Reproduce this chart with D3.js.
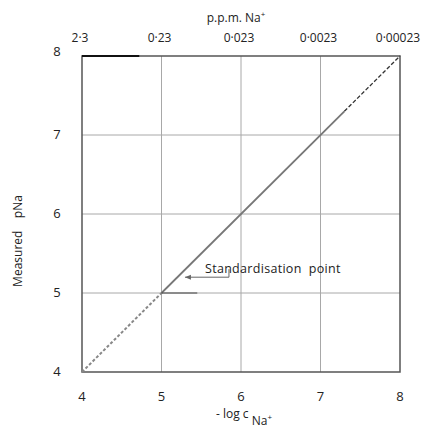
<!DOCTYPE html>
<html>
<meta charset="utf-8">
<style>
body { margin: 0; background: #fff; }
text { font-family: "Open Sans", sans-serif; fill: #222; white-space: pre; }
</style>
<script src="https://d3js.org/d3.v7.min.js"></script>
<body>
<svg id="chart" width="421" height="432"></svg>
<script>
// data
var xTicks = [4, 5, 6, 7, 8];
var yTicks = [4, 5, 6, 7, 8];
var ppmLabels = ["2·3", "0·23", "0·023", "0·0023", "0·00023"];
var dottedPart = [[4, 4], [5, 5]];
var solidPart = [[5, 5], [7.3, 7.3]];
var dashedPart = [[7.3, 7.3], [8, 8]];
var stdPoint = [5.27, 5.2];

var svg = d3.select("#chart");
var x = d3.scaleLinear().domain([4, 8]).range([82, 400]);
var y = d3.scaleLinear().domain([4, 8]).range([372, 56]);

// grid
svg.append("g").selectAll("line").data(xTicks.slice(1, -1)).enter().append("line")
    .attr("x1", d => x(d)).attr("x2", d => x(d))
    .attr("y1", y(8)).attr("y2", y(4))
    .attr("stroke", "#a8a8a8").attr("stroke-width", 1);
svg.append("g").selectAll("line").data(yTicks.slice(1, -1)).enter().append("line")
    .attr("y1", d => y(d)).attr("y2", d => y(d))
    .attr("x1", x(4)).attr("x2", x(8))
    .attr("stroke", "#a8a8a8").attr("stroke-width", 1);

// frame
svg.append("rect")
    .attr("x", x(4)).attr("y", y(8))
    .attr("width", x(8) - x(4)).attr("height", y(4) - y(8))
    .attr("fill", "none").attr("stroke", "#555").attr("stroke-width", 1.5);
svg.append("line")
    .attr("x1", x(4)).attr("x2", x(4.72)).attr("y1", y(8)).attr("y2", y(8))
    .attr("stroke", "#111").attr("stroke-width", 2);

// axes labels
svg.append("g").selectAll("text").data(xTicks).enter().append("text")
    .attr("x", d => x(d)).attr("y", 401)
    .attr("text-anchor", "middle").attr("font-size", 13)
    .text(d => d);
svg.append("g").selectAll("text").data(yTicks).enter().append("text")
    .attr("x", 57).attr("y", d => y(d) + 4 - (d === 8 ? 4 : 0))
    .attr("text-anchor", "middle").attr("font-size", 13)
    .text(d => d);
svg.append("g").selectAll("text").data(ppmLabels).enter().append("text")
    .attr("x", (d, i) => x(xTicks[i]) - 2).attr("y", 42)
    .attr("text-anchor", "middle").attr("font-size", 12)
    .text(d => d);

svg.append("text").attr("x", 236).attr("y", 22)
    .attr("text-anchor", "middle").attr("font-size", 12)
    .html("p.p.m. Na<tspan baseline-shift='super' font-size='8'>+</tspan>");

var xl = svg.append("text").attr("x", 244).attr("y", 418)
    .attr("text-anchor", "middle").attr("font-size", 12);
xl.append("tspan").text("- log c ");
xl.append("tspan").attr("dy", 7).text("Na");
xl.append("tspan").attr("dy", -5).attr("font-size", 8).text("+");

svg.append("text")
    .attr("transform", "translate(22,241) rotate(-90)")
    .attr("text-anchor", "middle").attr("font-size", 12)
    .text("Measured    pNa");

// calibration line
var line = d3.line().x(d => x(d[0])).y(d => y(d[1]));
svg.append("path").attr("d", line(dottedPart))
    .attr("fill", "none").attr("stroke", "#888").attr("stroke-width", 2)
    .attr("stroke-dasharray", "3,2");
svg.append("path").attr("d", line(solidPart))
    .attr("fill", "none").attr("stroke", "#777").attr("stroke-width", 1.8);
svg.append("path").attr("d", line(dashedPart))
    .attr("fill", "none").attr("stroke", "#333").attr("stroke-width", 1.3)
    .attr("stroke-dasharray", "4,2");

// annotation
var px = x(stdPoint[0]) + 2, py = y(stdPoint[1]);
svg.append("path")
    .attr("d", "M" + (px + 44) + "," + (py - 8) + "V" + py + "H" + px)
    .attr("fill", "none").attr("stroke", "#666").attr("stroke-width", 1);
svg.append("path")
    .attr("d", "M" + px + "," + py + "l6,-2.5v5z")
    .attr("fill", "#666");
svg.append("text").attr("x", 205).attr("y", 273).attr("font-size", 12.5)
    .attr("letter-spacing", 0.3)
    .text("Standardisation  point");
svg.append("line")
    .attr("x1", x(5)).attr("x2", x(5.45)).attr("y1", y(5)).attr("y2", y(5))
    .attr("stroke", "#444").attr("stroke-width", 1);
</script>
</body>
</html>
